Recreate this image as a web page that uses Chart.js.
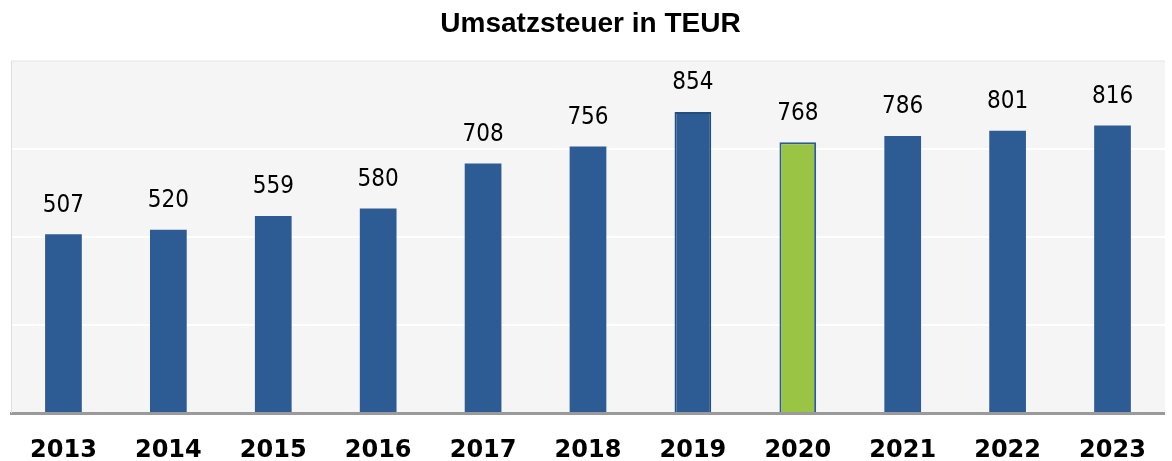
<!DOCTYPE html>
<html>
<head>
<meta charset="utf-8">
<script src="https://cdn.jsdelivr.net/npm/chart.js@4/dist/chart.umd.min.js"></script>
<style>
  html, body { margin: 0; padding: 0; background: #fff; }
  #wrap { width: 1172px; height: 461px; }
</style>
</head>
<body>
<div id="wrap"><canvas id="taxChart" width="1172" height="461"></canvas></div>
<script>
// values
const years = ["2013", "2014", "2015", "2016", "2017", "2018", "2019", "2020", "2021", "2022", "2023"];
const umsatzsteuer = [507, 520, 559, 580, 708, 756, 854, 768, 786, 801, 816];
const yTicks = [0, 250, 500, 750, 1000];

const blue = "#2d5c94";
const green = "#9ac544";

// 2020 is highlighted in green, everything else blue
const fillColors = years.map((y) => (y === "2020" ? green : blue));
const edgeColors = years.map((y) => (y === "2019" ? "#234d80" : blue));
const edgeWidths = years.map((y) => (y === "2019" || y === "2020" ? 2 : 0));

// grey plot background with a thin frame on top/left
const plotBackground = {
  id: "plotBackground",
  beforeDraw(chart) {
    const { ctx, chartArea: a } = chart;
    ctx.save();
    ctx.fillStyle = "#f5f5f5";
    ctx.fillRect(a.left, a.top, a.right - a.left, a.bottom - a.top);
    ctx.restore();
  },
  beforeDatasetsDraw(chart) {
    const { ctx, chartArea: a } = chart;
    ctx.save();
    ctx.strokeStyle = "#dedede";
    ctx.lineWidth = 1;
    ctx.beginPath();
    ctx.moveTo(a.left + 0.5, a.bottom);
    ctx.lineTo(a.left + 0.5, a.top + 0.5);
    ctx.lineTo(a.right, a.top + 0.5);
    ctx.stroke();
    ctx.restore();
  }
};

// value labels above every bar
const valueLabels = {
  id: "valueLabels",
  afterDatasetsDraw(chart) {
    const { ctx } = chart;
    const meta = chart.getDatasetMeta(0);
    ctx.save();
    ctx.fillStyle = "#000";
    ctx.font = "24px 'DejaVu Sans Condensed', 'DejaVu Sans', sans-serif";
    ctx.textAlign = "center";
    ctx.textBaseline = "middle";
    meta.data.forEach((bar, i) => {
      ctx.fillText(String(umsatzsteuer[i]), bar.x, bar.y - 29);
    });
    ctx.restore();
  }
};

new Chart(document.getElementById("taxChart").getContext("2d"), {
  type: "bar",
  data: {
    labels: years,
    datasets: [
      {
        label: "Umsatzsteuer in TEUR",
        data: umsatzsteuer,
        backgroundColor: fillColors,
        borderColor: edgeColors,
        borderWidth: edgeWidths,
        barPercentage: 0.35,
        categoryPercentage: 1.0
      }
    ]
  },
  options: {
    responsive: false,
    animation: false,
    layout: { padding: { left: 11, right: 2, bottom: -28 } },
    plugins: {
      legend: { display: false },
      tooltip: { enabled: false },
      title: {
        display: true,
        text: "Umsatzsteuer in TEUR",
        color: "#000",
        font: { family: "'Liberation Sans', Arial, sans-serif", size: 28, weight: "bold", lineHeight: 1.2 },
        padding: { top: 7, bottom: 20 }
      }
    },
    scales: {
      x: {
        grid: { display: false, drawTicks: false },
        border: { display: true, color: "#9a9a9a", width: 3 },
        ticks: {
          color: "#000",
          padding: 26,
          font: { family: "'DejaVu Sans', Verdana, sans-serif", size: 24, weight: "bold", lineHeight: 1 }
        }
      },
      y: {
        min: 0,
        max: 1000,
        afterBuildTicks: (axis) => {
          axis.ticks = yTicks.map((v) => ({ value: v }));
        },
        grid: { color: "#ffffff", lineWidth: 2, drawTicks: false },
        border: { display: false },
        ticks: { display: false }
      }
    }
  },
  plugins: [plotBackground, valueLabels]
});
</script>
</body>
</html>
